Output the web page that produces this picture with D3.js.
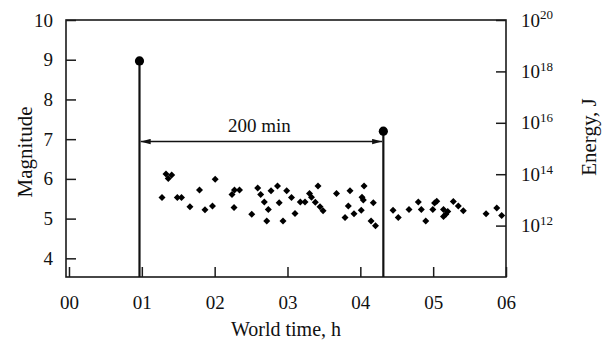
<!DOCTYPE html>
<html><head><meta charset="utf-8">
<script src="https://cdn.jsdelivr.net/npm/d3@7"></script>
<style>
body{margin:0;background:#fff;}
svg text{font-family:"Liberation Serif","Times New Roman",serif;fill:#111;}
</style></head>
<body>
<svg id="c" width="605" height="346" font-family="Liberation Serif, serif"></svg>
<script>
// Aftershock times (hours, UT) and magnitudes
const shockTimes = [1.277,1.332,1.410,1.363,1.487,1.545,1.661,1.792,1.867,1.970,2.007,2.238,2.272,2.341,2.266,2.509,2.591,2.632,2.682,2.737,2.715,2.774,2.863,2.886,2.938,2.989,3.055,3.103,3.176,3.240,3.302,3.330,3.419,3.382,3.446,3.488,3.673,3.858,3.835,3.790,3.913,4.051,4.023,4.041,4.013,4.178,4.147,4.208,4.449,4.521,4.668,4.796,4.837,4.898,4.995,5.019,5.049,5.142,5.174,5.200,5.142,5.277,5.345,5.414,5.726,5.873,5.941];
const shockMags  = [5.53,6.12,6.10,6.01,5.53,5.53,5.30,5.72,5.22,5.32,5.99,5.61,5.72,5.72,5.28,5.11,5.77,5.61,5.42,5.23,4.94,5.70,5.82,5.40,4.94,5.70,5.53,5.13,5.42,5.42,5.63,5.54,5.82,5.41,5.30,5.20,5.63,5.70,5.32,5.03,5.12,5.82,5.54,5.47,5.21,5.40,4.94,4.82,5.21,5.03,5.23,5.42,5.23,4.94,5.23,5.39,5.44,5.23,5.11,5.18,5.05,5.43,5.32,5.20,5.12,5.27,5.08];
// Main events
const mainTimes = [0.968, 4.316];
const mainMags  = [8.97, 7.2];
const intervalLabel = "200 min";
const intervalMag = 6.94;
// Ticks
const hourTicks = [0,1,2,3,4,5,6];
const hourLabels = ["00","01","02","03","04","05","06"];
const magTicks = [4,5,6,7,8,9,10];
const energyExps = [12,14,16,18,20];

const L=66,R=506,T=20,B=277;
const FF="Liberation Serif, Times New Roman, serif";
const svg=d3.select("#c");
const x=d3.scaleLinear().domain([-0.041,6]).range([L,R]);
const y=d3.scaleLinear().domain([3.53,10]).range([B,T]);
const e=d3.scaleLog().domain([1e10,1e20]).range([B,T]);

const stroke="#1a1a1a";
// axes
const ax=svg.append("g").attr("transform",`translate(0,${B})`)
 .call(d3.axisBottom(x).tickValues(hourTicks).tickFormat((d,i)=>hourLabels[i]).tickSizeInner(-10).tickSizeOuter(0).tickPadding(19));
const ay=svg.append("g").attr("transform",`translate(${L},0)`)
 .call(d3.axisLeft(y).tickValues(magTicks).tickFormat(d3.format("d")).tickSizeInner(-10).tickSizeOuter(0).tickPadding(13));
const ae=svg.append("g").attr("transform",`translate(${R},0)`)
 .call(d3.axisRight(e).tickValues(energyExps.map(p=>Math.pow(10,p))).tickFormat("").tickSizeInner(-10).tickSizeOuter(0).tickPadding(15));
ae.selectAll(".tick text").each(function(d,i){
  const t=d3.select(this);
  t.append("tspan").text("10");
  t.append("tspan").attr("font-size","13px").attr("dy","-0.55em").text(energyExps[i]);
});
[ax,ay,ae].forEach(g=>{
  g.attr("font-family",FF).attr("font-size",19);
  g.select(".domain").remove();
  g.selectAll(".tick line").attr("stroke",stroke).attr("stroke-width",1.5);
  g.selectAll(".tick text").attr("font-size","19px").attr("fill","#111").attr("font-family",FF);
});
// frame
svg.append("rect").attr("x",L).attr("y",T).attr("width",R-L).attr("height",B-T)
 .attr("fill","none").attr("stroke",stroke).attr("stroke-width",1.6);

// stems for main events
svg.selectAll(".stem").data(mainTimes).enter().append("line")
 .attr("x1",d=>x(d)).attr("x2",d=>x(d)).attr("y1",B).attr("y2",(d,i)=>y(mainMags[i]))
 .attr("stroke","#111").attr("stroke-width",2.2);
svg.selectAll(".main").data(mainTimes).enter().append("circle")
 .attr("cx",d=>x(d)).attr("cy",(d,i)=>y(mainMags[i])).attr("r",4.6).attr("fill","#000");

// interval arrow
const defs=svg.append("defs");
defs.append("marker").attr("id","ah").attr("viewBox","0 0 10 6").attr("refX",10).attr("refY",3)
 .attr("markerWidth",10).attr("markerHeight",6).attr("markerUnits","userSpaceOnUse").attr("orient","auto-start-reverse")
 .append("path").attr("d","M0,0.3L10,3L0,5.7Z").attr("fill","#111");
const ax1=x(mainTimes[0])+1.2, ax2=x(mainTimes[1])-1.2, ay1=y(intervalMag);
svg.append("line").attr("x1",ax1).attr("x2",ax2).attr("y1",ay1).attr("y2",ay1)
 .attr("stroke","#111").attr("stroke-width",1.5)
 .attr("marker-start","url(#ah)").attr("marker-end","url(#ah)");
svg.append("text").attr("x",(ax1+ax2)/2-2).attr("y",ay1-10).attr("text-anchor","middle")
 .attr("font-family",FF).attr("font-size","19px").text(intervalLabel);

// aftershocks (diamonds)
const s=3.5;
svg.selectAll(".sh").data(shockTimes).enter().append("path")
 .attr("d",(d,i)=>{const cx=x(d),cy=y(shockMags[i]);return `M${cx},${cy-s}L${cx+s},${cy}L${cx},${cy+s}L${cx-s},${cy}Z`;})
 .attr("fill","#000");

// axis titles
svg.append("text").attr("x",(L+R)/2).attr("y",336).attr("text-anchor","middle").attr("font-family",FF).attr("font-size","20px").text("World time, h");
svg.append("text").attr("transform",`translate(32,152) rotate(-90)`).attr("text-anchor","middle").attr("font-family",FF).attr("font-size","21px").text("Magnitude");
svg.append("text").attr("transform",`translate(596,137) rotate(-90)`).attr("text-anchor","middle").attr("font-family",FF).attr("font-size","21px").text("Energy, J");
</script>
</body></html>
